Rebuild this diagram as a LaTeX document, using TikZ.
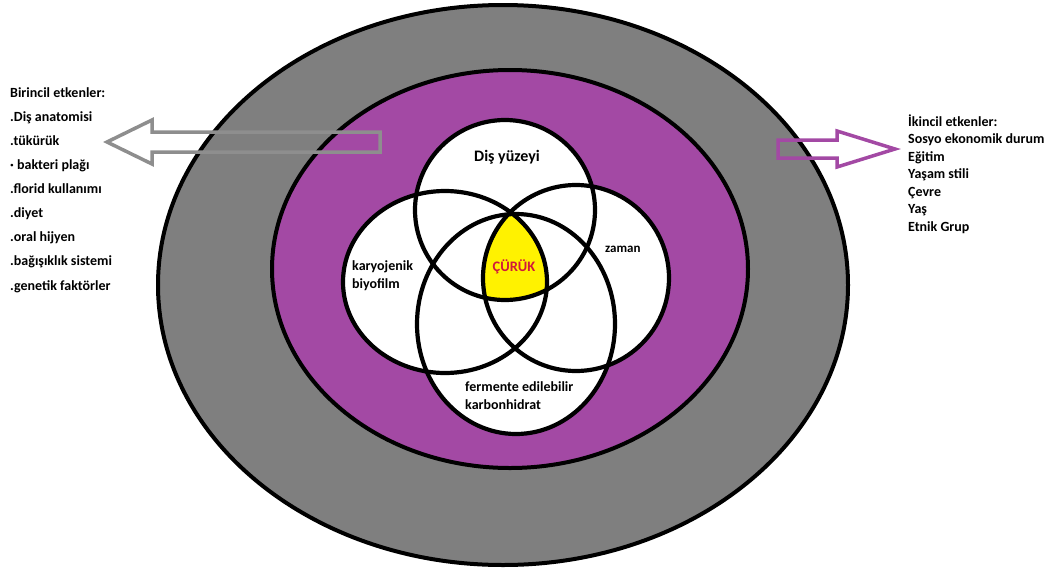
\documentclass[tikz,border=0pt]{standalone}
\usepackage{fontspec}
\setmainfont{Carlito}
\usepackage{xcolor}
\definecolor{ringgray}{HTML}{7F7F7F}
\definecolor{ringpurple}{HTML}{A349A4}
\definecolor{arrowgray}{HTML}{8E8E8E}
\definecolor{curukyellow}{HTML}{FFF200}
\definecolor{curukred}{HTML}{D0183C}
\tikzset{
  ring/.style={line width=4pt,draw=black},
  venn/.style={line width=4.2pt,draw=black},
  txt/.style={font=\bfseries\fontsize{14}{18}\selectfont,inner sep=0pt,align=left}
}

\begin{document}
\begin{tikzpicture}[x=1pt,y=-1pt]
  \useasboundingbox (0,0) rectangle (1053,571);
  % rings
  \draw[ring,fill=ringgray] (503,285) ellipse [x radius=345,y radius=280];
  \draw[ring,fill=ringpurple] (510,269) ellipse [x radius=238,y radius=199];
  % venn circles
  \fill[white] (505,210) ellipse [x radius=90,y radius=90];
  \fill[white] (445,282) ellipse [x radius=102,y radius=91];
  \fill[white] (576,278) ellipse [x radius=93,y radius=93];
  \fill[white] (516,324) ellipse [x radius=99,y radius=110];
  \begin{scope}
    \clip (505,210) ellipse [x radius=90,y radius=90];
    \clip (445,282) ellipse [x radius=102,y radius=91];
    \clip (576,278) ellipse [x radius=93,y radius=93];
    \fill[curukyellow] (516,324) ellipse [x radius=99,y radius=110];
  \end{scope}
  \draw[venn] (505,210) ellipse [x radius=90,y radius=90];
  \draw[venn] (445,282) ellipse [x radius=102,y radius=91];
  \draw[venn] (576,278) ellipse [x radius=93,y radius=93];
  \draw[venn] (516,324) ellipse [x radius=99,y radius=110];
  % block arrows
  \draw[arrowgray,line width=3.5pt] (380,132)--(152,132)--(152,120)--(107,142)--(152,164)--(152,152)--(380,152)--cycle;
  \draw[ringpurple,line width=3.5pt] (778,140)--(837,140)--(837,131)--(895,149)--(837,167)--(837,158)--(778,158)--cycle;
  % labels (base = last line)
  \node[txt,anchor=base,font=\bfseries\fontsize{16}{18}\selectfont] (disyuzeyi) at (507,161) {Diş yüzeyi};
  \node[txt,anchor=base west] (biyofilm) at (352,288) {karyojenik\\biyofilm};
  \node[txt,anchor=base west,font=\bfseries\fontsize{13}{15}\selectfont] (zaman) at (605,252) {zaman};
  \node[txt,anchor=base,text=curukred,font=\bfseries\fontsize{14.5}{16}\selectfont] (curuk) at (514,271) {ÇÜRÜK};
  \node[txt,anchor=base west] (karbonhidrat) at (465,409) {fermente edilebilir\\karbonhidrat};
  \node[txt,anchor=base west,font=\bfseries\fontsize{14}{24.1}\selectfont] (birincil) at (10,290) {Birincil etkenler:\\.Diş anatomisi\\.tükürük\\· bakteri plağı\\.florid kullanımı\\.diyet\\.oral hijyen\\.bağışıklık sistemi\\.genetik faktörler};
  \node[txt,anchor=base west,font=\bfseries\fontsize{14}{17.5}\selectfont] (ikincil) at (908,231) {İkincil etkenler:\\Sosyo ekonomik durum\\Eğitim\\Yaşam stili\\Çevre\\Yaş\\Etnik Grup};
\end{tikzpicture}
\end{document}
